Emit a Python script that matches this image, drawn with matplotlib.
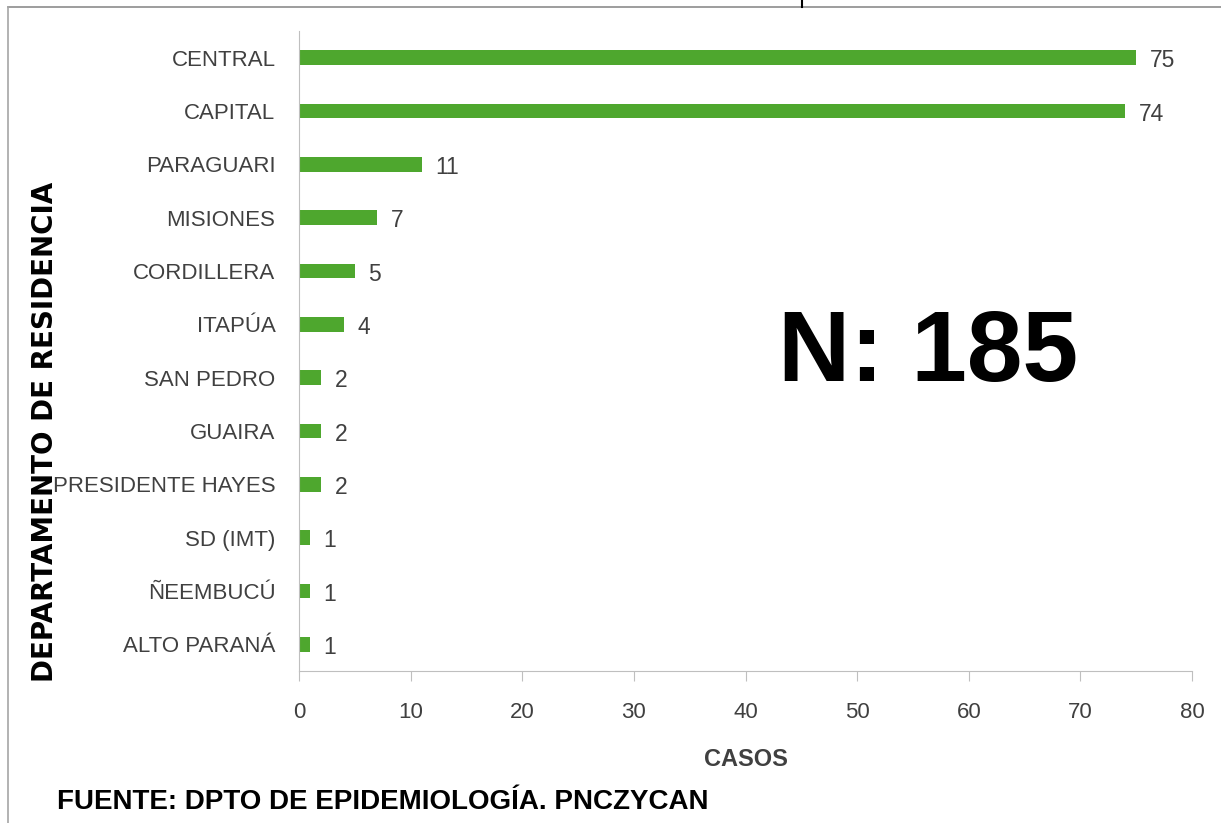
import matplotlib.pyplot as plt
from matplotlib.lines import Line2D

# Datos
departamentos = ["CENTRAL", "CAPITAL", "PARAGUARI", "MISIONES", "CORDILLERA", "ITAPÚA",
                 "SAN PEDRO", "GUAIRA", "PRESIDENTE HAYES", "SD (IMT)", "ÑEEMBUCÚ", "ALTO PARANÁ"]
casos = [75, 74, 11, 7, 5, 4, 2, 2, 2, 1, 1, 1]
x_ticks = [0, 10, 20, 30, 40, 50, 60, 70, 80]

FUENTE = ["Liberation Sans", "DejaVu Sans"]
GRIS = "#404040"
VERDE = "#4ea72e"

fig = plt.figure(figsize=(12.21, 8.23), dpi=100)
ax = fig.add_axes([0.2449, 0.1847, 0.7314, 0.7776])

y = list(range(len(departamentos)))
ax.barh(y, casos, height=0.27, color=VERDE)
for yi, v in zip(y, casos):
    ax.text(v + 1.2, yi + 0.06, str(v), va="center", ha="left", fontsize=16.5,
            color=GRIS, family=FUENTE)

ax.set_ylim(len(departamentos) - 0.5, -0.5)
ax.set_xlim(0, 80)
ax.set_xticks(x_ticks)
ax.set_yticks(y)
ax.set_yticklabels(departamentos, family=FUENTE, fontsize=16, color=GRIS)
ax.set_xticklabels([str(t) for t in x_ticks], family=FUENTE, fontsize=16, color=GRIS)
ax.tick_params(axis="y", length=0, pad=17)
ax.tick_params(axis="x", length=7, color="#bfbfbf", pad=15)

for s in ["top", "right"]:
    ax.spines[s].set_visible(False)
ax.spines["left"].set_color("#bfbfbf")
ax.spines["bottom"].set_color("#bfbfbf")

ax.set_xlabel("CASOS", family=FUENTE, fontsize=17, fontweight="bold", color=GRIS, labelpad=18)
fig.text(0.037, 0.475, "DEPARTAMENTO DE RESIDENCIA", rotation=90, ha="center", va="center",
         fontsize=20, fontweight="bold", family=["DejaVu Sans"], color="black")

ax.text(0.704, 0.494, "N: 185", transform=ax.transAxes, ha="center", va="center",
        fontsize=72, fontweight="bold", family=FUENTE, color="black")

fig.text(0.047, 0.025, "FUENTE: DPTO DE EPIDEMIOLOGÍA. PNCZYCAN", ha="left", va="center",
         fontsize=20, fontweight="bold", family=FUENTE, color="black")

# bordes del recorte
fig.add_artist(Line2D([0.0066, 1.0], [0.9915, 0.9915], color="#8c8c8c", lw=1.2, transform=fig.transFigure))
fig.add_artist(Line2D([0.0066, 0.0066], [0.0, 0.9915], color="#a6a6a6", lw=1.2, transform=fig.transFigure))
fig.add_artist(Line2D([0.657, 0.657], [0.9915, 1.0], color="black", lw=1.5, transform=fig.transFigure))

fig.savefig("out.png", dpi=100)
